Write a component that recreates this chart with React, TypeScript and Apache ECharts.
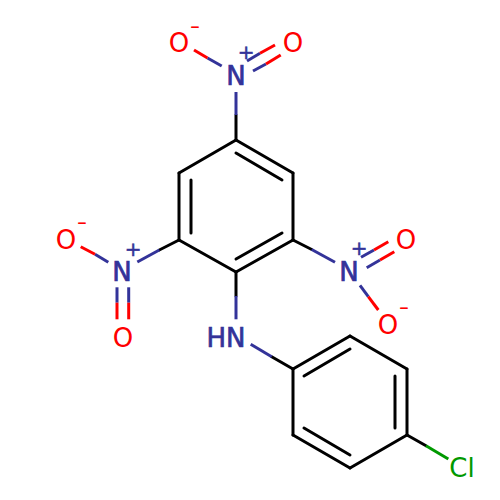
import React, { useEffect, useRef } from "react";
import * as echarts from "echarts";

type Seg = [number, number, number, number];

const blackBonds: Seg[] = [
  [236, 115, 236, 140],
  [236, 140, 293, 173],
  [293, 173, 293, 240],
  [293, 240, 236, 272],
  [236, 272, 179, 240],
  [179, 240, 179, 173],
  [179, 173, 236, 140],
  [236, 153, 282, 180],
  [282, 233, 236, 259],
  [191, 233, 191, 180],
  [236, 272, 236, 296],
  [179, 240, 159.3, 250],
  [293, 240, 311.7, 249.5],
  [271.7, 356.7, 293, 369],
  [293, 369, 350, 336],
  [350, 336, 407, 369],
  [407, 369, 407, 435],
  [407, 435, 350, 468],
  [350, 468, 293, 435],
  [293, 435, 293, 369],
  [304, 376, 350, 349],
  [395, 376, 395, 428],
  [350, 455, 304, 428],
  [407, 435, 426, 445.7],
];
const navyBonds: Seg[] = [
  [236, 92, 236, 115],
  [221.7, 66, 207.5, 58],
  [247, 61, 260, 53.3],
  [253, 71, 266, 64],
  [137.3, 262, 159.3, 250],
  [108.3, 262.3, 95, 254.3],
  [117, 287.3, 117, 302.7],
  [128.7, 287.3, 128.7, 302.7],
  [335, 262.3, 311.7, 249.5],
  [361, 257.3, 374, 250],
  [366.7, 267.7, 380, 260],
  [360, 285.3, 368.3, 296.7],
  [236, 296, 236, 319.3],
  [250.7, 344.3, 271.7, 356.7],
];
const redBonds: Seg[] = [
  [207.5, 58, 194, 50],
  [260, 53.3, 275, 45],
  [266, 64, 280.7, 55],
  [95, 254.3, 80.7, 246.7],
  [117, 302.7, 117, 319.3],
  [128.7, 302.7, 128.7, 319.3],
  [374, 250, 388.3, 241.7],
  [380, 260, 394.3, 251.7],
  [368.3, 296.7, 378.3, 310],
];
const greenBonds: Seg[] = [[426, 445.7, 448.3, 459]];

const atomTexts = ["O", "-", "O", "N", "+", "O", "-", "O", "N", "+", "O", "O", "-", "N", "+", "HN", "Cl"];
const atomX = [179, 195, 293, 236, 246, 66, 82, 123, 122, 133, 406, 388, 404, 349, 359, 226, 462];
const atomY = [43, 26, 43, 75.5, 52, 240, 222, 338, 272, 249, 240, 325, 307, 271.5, 248, 338, 468];
const atomKinds = ["o", "oc", "o", "n", "nc", "o", "oc", "o", "n", "nc", "o", "o", "oc", "n", "nc", "n", "cl"];

const NAVY = "#333399";
const RED = "#ff0000";
const GREEN = "#009900";
const kindColor: Record<string, string> = { o: RED, oc: RED, n: NAVY, nc: NAVY, cl: GREEN };
const kindSize: Record<string, number> = { o: 26, oc: 20, n: 26, nc: 20, cl: 26 };
const kindStroke: Record<string, number> = { o: 0, oc: 0, n: 0.7, nc: 0.5, cl: 0 };
const kindLineHeight: Record<string, number> = { o: 26, oc: 20, n: 24, nc: 14, cl: 26 };

const bondSeries = (data: Seg[], color: string, cap: string) => ({
  type: "custom",
  coordinateSystem: "cartesian2d",
  silent: true,
  encode: { x: [0, 2], y: [1, 3] },
  data,
  renderItem: (_: unknown, api: any) => {
    const a = api.coord([api.value(0), api.value(1)]);
    const b = api.coord([api.value(2), api.value(3)]);
    return {
      type: "line",
      shape: { x1: a[0], y1: a[1], x2: b[0], y2: b[1] },
      style: { stroke: color, lineWidth: 3, lineCap: cap, fill: null },
    };
  },
});

export default function App() {
  const ref = useRef<HTMLDivElement>(null);
  useEffect(() => {
    const chart = echarts.init(ref.current!, undefined, { renderer: "svg" });
    chart.setOption({
      animation: false,
      backgroundColor: "#ffffff",
      grid: { left: 0, right: 0, top: 0, bottom: 0 },
      xAxis: { type: "value", min: 0, max: 500, show: false },
      yAxis: { type: "value", min: 0, max: 500, inverse: true, show: false },
      series: [
        bondSeries(blackBonds, "#000000", "round"),
        bondSeries(navyBonds, NAVY, "butt"),
        bondSeries(redBonds, RED, "butt"),
        bondSeries(greenBonds, GREEN, "butt"),
        {
          type: "custom",
          coordinateSystem: "cartesian2d",
          silent: true,
          encode: { x: 0, y: 1 },
          data: atomX.map((x, i) => [x, atomY[i]]),
          renderItem: (params: any, api: any) => {
            const p = api.coord([api.value(0), api.value(1)]);
            const kind = atomKinds[params.dataIndex];
            return {
              type: "text",
              x: p[0],
              y: p[1],
              scaleX: kind === "oc" ? 1.45 : 1,
              style: {
                text: atomTexts[params.dataIndex],
                x: 0,
                y: 0,
                align: "center",
                verticalAlign: "middle",
                fontFamily: "DejaVu Sans",
                fontSize: kindSize[kind],
                lineHeight: kindLineHeight[kind],
                fill: kindColor[kind],
                stroke: kindStroke[kind] ? kindColor[kind] : undefined,
                lineWidth: kindStroke[kind],
              },
            };
          },
        },
      ],
    });
    return () => chart.dispose();
  }, []);
  return <div ref={ref} style={{ position: "absolute", left: 0, top: 0, width: 500, height: 500 }} />;
}
